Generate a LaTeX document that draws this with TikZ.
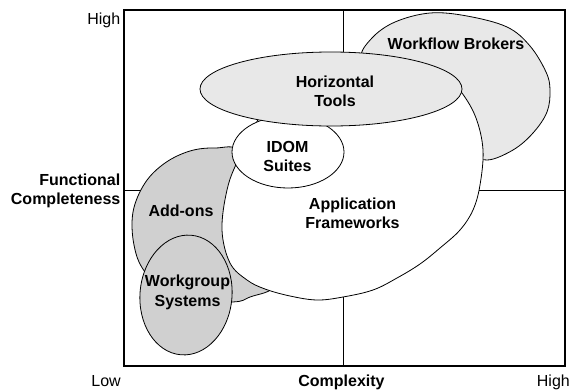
\documentclass[tikz,border=0pt]{standalone}
\usepackage{fontspec}
\setmainfont{Liberation Sans}
\usetikzlibrary{shapes.geometric}
\definecolor{lightfill}{HTML}{E8E8E8}
\definecolor{darkfill}{HTML}{D0D0D0}
\tikzset{
  shapeline/.style={draw=black, line width=0.8pt},
  gridline/.style={draw=black, line width=0.8pt},
  lbl/.style={inner sep=0pt, font=\fontsize{16}{19.5}\selectfont\bfseries, anchor=base},
  axlbl/.style={inner sep=0pt, font=\fontsize{16}{19.5}\selectfont, anchor=base},
}
\newcommand{\twol}[2]{\begin{tabular}[t]{@{}c@{}}#1\\#2\end{tabular}}
\begin{document}
\begin{tikzpicture}[x=1pt,y=-1pt]
\useasboundingbox (0,0) rectangle (570,391);
% quadrant lines
\coordinate (vt) at (343,10);
\coordinate (vb) at (343,366);
\coordinate (hl) at (124,190);
\coordinate (hr) at (565,190);
\draw[gridline] (vt) -- (vb);
\draw[gridline] (hl) -- (hr);
% Workflow Brokers
\draw[shapeline, fill=lightfill] plot[smooth cycle, tension=0.6] coordinates {
 (470,150) (440,110) (390,75) (362,58) (372,38) (395,22) (430,13) (467,16)
 (507,27) (530,46) (546,72) (550,90) (547,112) (533,133) (513,150) (487,160)};
% Add-ons
\draw[shapeline, fill=darkfill] plot[smooth cycle, tension=0.6] coordinates {
 (240,152) (215,148) (190,151) (165,163) (145,183) (133,212) (134,245) (145,272)
 (175,300) (232,302) (250,297) (275,285) (265,250) (248,200)};
% Application Frameworks
\draw[shapeline, fill=white] plot[smooth cycle, tension=0.6] coordinates {
 (238,160) (227,190) (222,230) (230,263) (247,280) (265,289) (290,296) (317,300)
 (343,297) (373,290) (397,278) (420,264) (440,248) (460,230) (473,210) (480,185)
 (483,150) (476,118) (462,93) (445,75) (400,62) (330,62) (280,80) (262,112)};
% IDOM Suites
\draw[shapeline, fill=white] (288,152) ellipse [x radius=56, y radius=36];
% Horizontal Tools
\draw[shapeline, fill=lightfill] (331,89) ellipse [x radius=131, y radius=37];
% Workgroup Systems
\draw[shapeline, fill=darkfill, rotate around={-5:(186,295)}] (186,295) ellipse [x radius=46, y radius=60];
% outer frame
\coordinate (tl) at (124,10);
\coordinate (br) at (565,366);
\draw[black, line width=1.2pt] (tl) rectangle (br);
% labels
\node[lbl] (wb) at (456,49.3) {Workflow Brokers};
\node[lbl] (ht) at (335,87.3) {\twol{Horizontal}{Tools}};
\node[lbl] (idom) at (287.5,152.3) {\twol{IDOM}{Suites}};
\node[lbl] (af) at (352.5,209.3) {\twol{Application}{Frameworks}};
\node[lbl] (ao) at (181,216) {Add-ons};
\node[lbl] (ws) at (187.5,286.5) {\twol{Workgroup}{Systems}};
% axis labels
\node[axlbl, anchor=base east] (yhigh) at (120.5,24) {High};
\node[lbl, anchor=base east] (yfc) at (120.5,185) {\begin{tabular}[t]{@{}r@{}}Functional\\Completeness\end{tabular}};
\node[axlbl, anchor=base east] (xlow) at (121,386) {Low};
\node[lbl] (xc) at (341.5,386) {Complexity};
\node[axlbl, anchor=base east] (xhigh) at (570,386) {High};
\end{tikzpicture}
\end{document}
